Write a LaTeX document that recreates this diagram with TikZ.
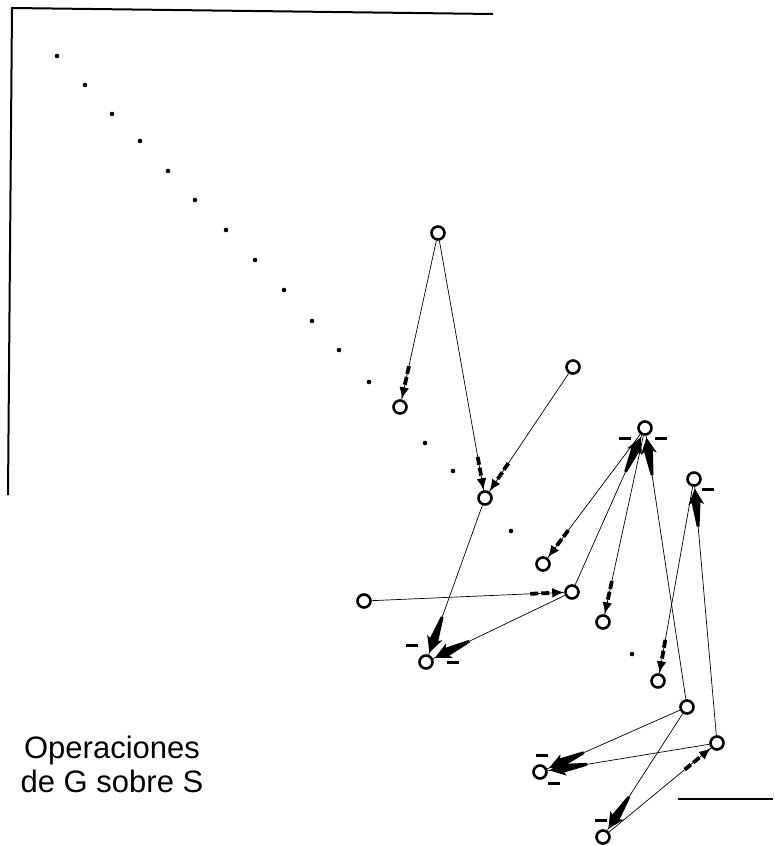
\documentclass[tikz,border=0pt]{standalone}
\usepackage{fontspec}
\setmainfont{Liberation Sans}
\usetikzlibrary{arrows.meta,decorations.markings}

\newcommand{\minusbar}{\rule{6pt}{1.5pt}}

\begin{document}
\begin{tikzpicture}[x=0.5pt, y=-0.5pt,
    elem/.style={circle, draw, line width=1.3pt, minimum size=6.5pt, inner sep=0pt},
    pt/.style={circle, fill, inner sep=0pt, minimum size=2.3pt},
    minus/.style={inner sep=0pt},
    link/.style={line width=0.35pt},
    weak/.style={link, postaction={decorate}, decoration={markings,
        mark=at position -17pt with {\draw[line width=1.9pt, dash pattern=on 4pt off 1.5pt,
            -{Latex[length=6pt,width=5pt]}] (0pt,0pt) -- (17pt,0pt);}}},
    strong/.style={link, postaction={decorate}, decoration={markings,
        mark=at position -20pt with {\fill (0pt,-0.7pt) -- (12pt,-2.2pt) -- (11pt,-4pt)
            -- (19pt,0pt) -- (11pt,4pt) -- (12pt,2.2pt) -- (0pt,0.7pt) -- cycle;}}}]
    \useasboundingbox (0,0) rectangle (775,846);

    % frame
    \draw[line width=1pt] (8,495) -- (12,8) -- (493,14);
    \draw[line width=1pt] (678,799) -- (773,799);

    % diagonal of fixed points
    \foreach \x/\y in {57/56, 85/85, 112/114, 140/141, 168/171, 195/200, 226/230,
        255/260, 284/290, 312/321, 339/350, 369/382, 425/443, 453/471, 511/531, 632/654}
        \node[pt] at (\x,\y) {};

    % elements of S
    \node[elem] (s1) at (438,233) {};
    \node[elem] (s2) at (400,407) {};
    \node[elem] (s3) at (573,367) {};
    \node[elem] (s4) at (485,498) {};
    \node[elem] (s5) at (645,428) {};
    \node[elem] (s6) at (694,479) {};
    \node[elem] (s7) at (543,564) {};
    \node[elem] (s8) at (572,592) {};
    \node[elem] (s9) at (364,601) {};
    \node[elem] (s10) at (603,622) {};
    \node[elem] (s11) at (426,662) {};
    \node[elem] (s12) at (658,681) {};
    \node[elem] (s13) at (687,707) {};
    \node[elem] (s14) at (717,743) {};
    \node[elem] (s15) at (540,772) {};
    \node[elem] (s16) at (603,837) {};

    % signs
    \node[minus] (m1) at (625,438) {\minusbar};
    \node[minus] (m2) at (661,438) {\minusbar};
    \node[minus] (m3) at (708,489) {\minusbar};
    \node[minus] (m4) at (412,645) {\minusbar};
    \node[minus] (m5) at (453,662) {\minusbar};
    \node[minus] (m6) at (542,755) {\minusbar};
    \node[minus] (m7) at (554,783) {\minusbar};
    \node[minus] (m8) at (601,820) {\minusbar};

    % operations
    \draw[weak] (s1) -- (s2);
    \draw[weak] (s1) -- (s4);
    \draw[weak] (s3) -- (s4);
    \draw[weak] (s9) -- (s8);
    \draw[weak] (s5) -- (s7);
    \draw[weak] (s5) -- (s10);
    \draw[weak] (s6) -- (s12);
    \draw[weak] (s16) -- (s14);

    \draw[strong] (s4) -- (s11);
    \draw[strong] (s8) -- (s11);
    \draw[strong] (s8) -- (s5);
    \draw[strong] (s13) -- (s5);
    \draw[strong] (s14) -- (s6);
    \draw[strong] (s13) -- (s15);
    \draw[strong] (s14) -- (s15);
    \draw[strong] (s13) -- (s16);

    \node[anchor=base, align=center, font=\fontsize{15.5}{17}\selectfont] (title)
        at (112,792) {Operaciones\\de G sobre S};
\end{tikzpicture}
\end{document}
